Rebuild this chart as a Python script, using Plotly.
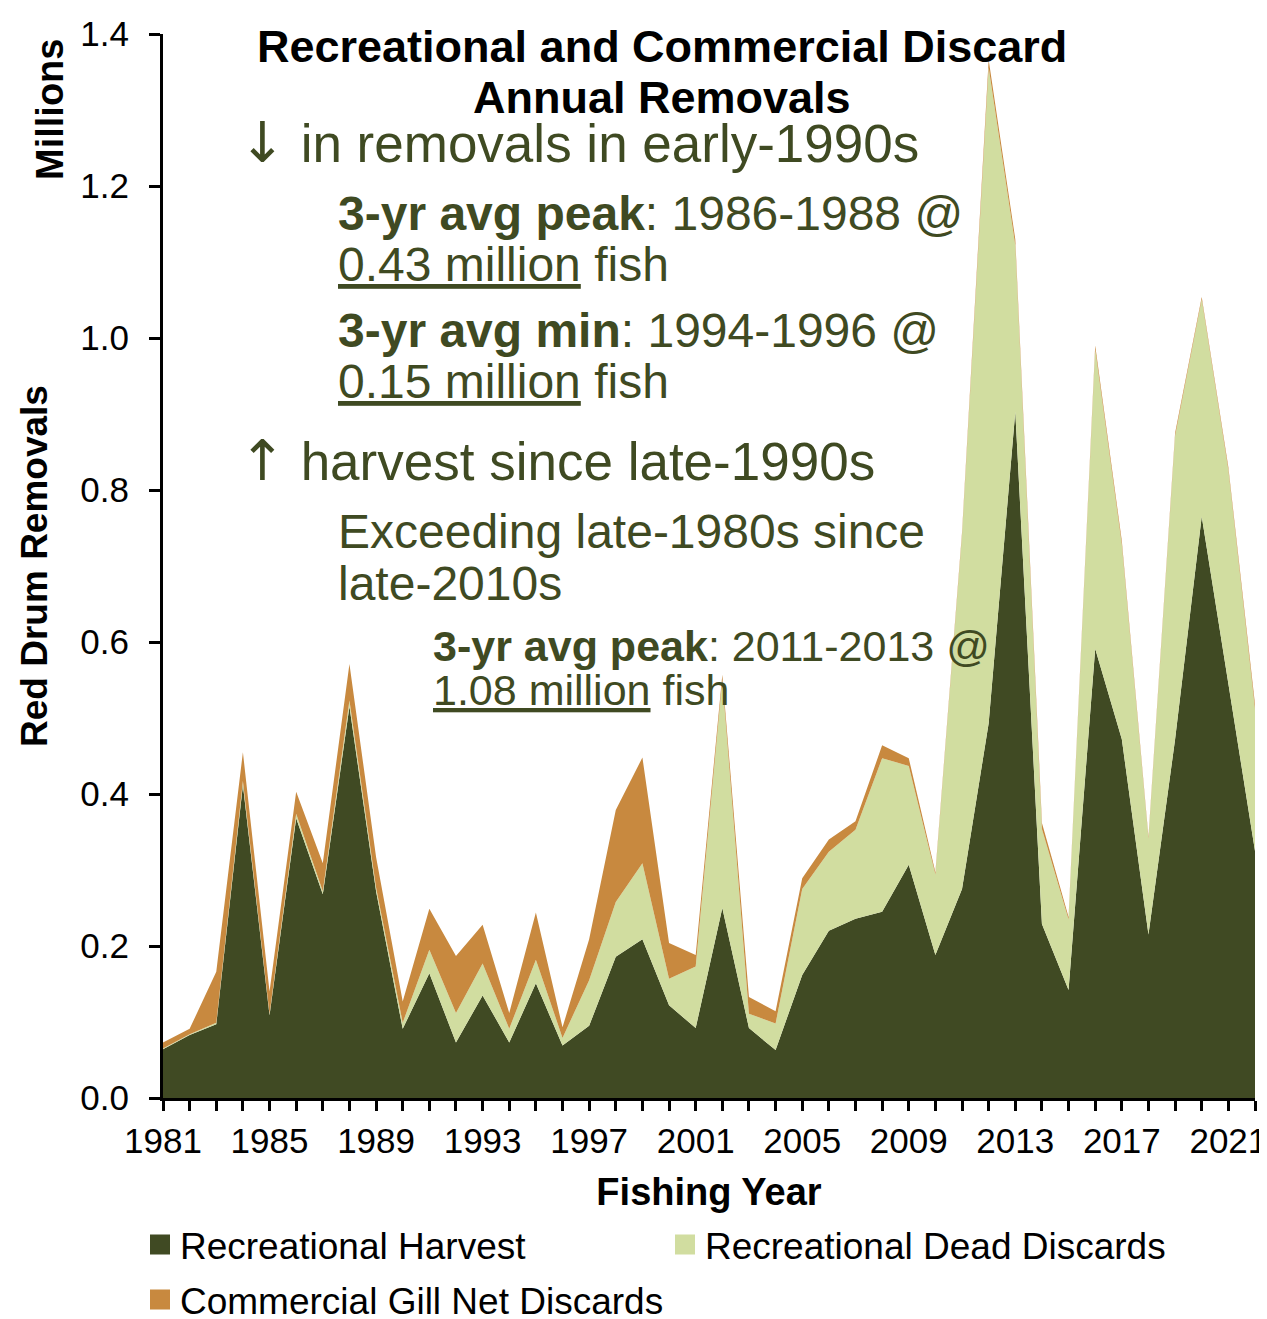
import plotly.graph_objects as go

years = list(range(1981, 2023))
rec_harvest = [0.064, 0.083, 0.097, 0.412, 0.109, 0.368, 0.268, 0.515, 0.272, 0.091,
               0.164, 0.073, 0.135, 0.073, 0.151, 0.069, 0.095, 0.186, 0.209, 0.122,
               0.092, 0.250, 0.092, 0.063, 0.162, 0.220, 0.236, 0.245, 0.307, 0.188,
               0.275, 0.493, 0.903, 0.229, 0.142, 0.591, 0.472, 0.215, 0.472, 0.765,
               0.545, 0.325]
rec_dead_discards = [0.001, 0.001, 0.002, 0.005, 0.002, 0.006, 0.004, 0.008, 0.005, 0.008,
                     0.031, 0.039, 0.042, 0.018, 0.031, 0.010, 0.060, 0.072, 0.100, 0.035,
                     0.081, 0.300, 0.019, 0.035, 0.113, 0.104, 0.117, 0.202, 0.130, 0.106,
                     0.465, 0.863, 0.219, 0.125, 0.093, 0.394, 0.256, 0.126, 0.399, 0.286,
                     0.281, 0.187]
gill_net_discards = [0.008, 0.007, 0.067, 0.038, 0.029, 0.029, 0.037, 0.048, 0.040, 0.028,
                     0.054, 0.075, 0.051, 0.021, 0.062, 0.014, 0.054, 0.121, 0.139, 0.047,
                     0.015, 0.007, 0.022, 0.016, 0.014, 0.016, 0.011, 0.017, 0.010, 0.003,
                     0.004, 0.010, 0.008, 0.008, 0.003, 0.005, 0.005, 0.003, 0.004, 0.003,
                     0.004, 0.006]

series_names = ["Recreational Harvest", "Recreational Dead Discards", "Commercial Gill Net Discards"]
colors = ["#404A23", "#D1DDA0", "#C8893F"]
text_color = "#3F4A22"
FONT = "Liberation Sans, Arial, sans-serif"
ARROW_FONT = "DejaVu Sans"

# page offset (default body margin of the html page)
OFF = 8
W, H = 1267 - OFF, 1319 - OFF
# plot area in screen pixels
SL, SR, ST, SB = 163, 1255, 34, 1098
L, R, T, B = SL - OFF, SR - OFF, ST - OFF, SB - OFF

def px_x(p):
    return (p - SL) / (SR - SL)

def px_y(p):
    return (SB - p) / (SB - ST)

fig = go.Figure()
for name, vals, col in zip(series_names, [rec_harvest, rec_dead_discards, gill_net_discards], colors):
    fig.add_trace(go.Scatter(
        x=years, y=vals, name=name, stackgroup="one", mode="lines",
        line=dict(width=0, color=col), fillcolor=col, showlegend=False,
        hovertemplate="%{x}: %{y:.3f}<extra>" + name + "</extra>"))

# legend entries (square swatches)
legend_ids = ["legend", "legend", "legend2"]
for name, col, lg in zip(series_names, colors, legend_ids):
    fig.add_trace(go.Scatter(
        x=[None], y=[None], name=name, mode="markers",
        marker=dict(symbol="square", size=16, color=col, line=dict(color=col, width=4)),
        legend=lg, showlegend=True))

ann = []
def add(text, x, y, size, color=text_color, xanchor="left", angle=0):
    ann.append(dict(text=text, x=px_x(x), y=px_y(y), xref="paper", yref="paper",
                    xanchor=xanchor, yanchor="middle", showarrow=False, textangle=angle,
                    font=dict(family=FONT, size=size, color=color)))

def arrow(ch):
    return '<span style="font-family:' + ARROW_FONT + ';font-size:56px">' + ch + '</span>'

add("<b>Recreational and Commercial Discard</b>", 662, 47, 45, "black", "center")
add("<b>Annual Removals</b>", 662, 97, 45, "black", "center")
add(arrow("↓") + " in removals in early-1990s", 237, 143, 53)
add("<b>3-yr avg peak</b>: 1986-1988 @", 336, 213, 48)
add("<u>0.43 million</u> fish", 336, 265, 48)
add("<b>3-yr avg min</b>: 1994-1996 @", 336, 330, 48)
add("<u>0.15 million</u> fish", 336, 382, 48)
add(arrow("↑") + " harvest since late-1990s", 237, 461, 53)
add("Exceeding late-1980s since", 336, 531, 48)
add("late-2010s", 336, 583, 48)
add("<b>3-yr avg peak</b>: 2011-2013 @", 431, 646, 43)
add("<u>1.08 million</u> fish", 431, 690, 43)
add("<b>Millions</b>", 50, 110, 38, "black", "center", -90)

fig.update_layout(
    width=W, height=H,
    margin=dict(l=L, r=W - R, t=T, b=H - B, pad=0, autoexpand=False),
    paper_bgcolor="white", plot_bgcolor="white",
    font=dict(family=FONT, size=35, color="black"),
    annotations=ann,
    legend=dict(orientation="h", x=px_x(140), y=px_y(1245), xanchor="left", yanchor="middle",
                entrywidth=480, entrywidthmode="pixels", traceorder="normal",
                font=dict(family=FONT, size=37, color="black"), bgcolor="rgba(0,0,0,0)"),
    legend2=dict(orientation="h", x=px_x(140), y=px_y(1300), xanchor="left", yanchor="middle",
                 traceorder="normal",
                 font=dict(family=FONT, size=37, color="black"), bgcolor="rgba(0,0,0,0)"),
    xaxis=dict(range=[1981, 2022], tick0=1981, dtick=4, ticks="outside", ticklen=10,
               tickwidth=3, tickcolor="black", showline=True, linewidth=3, linecolor="black",
               showgrid=False, zeroline=False, tickfont=dict(size=35), automargin=False,
               ticklabeloverflow="allow",
               minor=dict(dtick=1, tick0=1981, ticks="outside", ticklen=10, tickwidth=3,
                          tickcolor="black", showgrid=False),
               title=dict(text="<b>Fishing Year</b>", font=dict(size=38), standoff=20)),
    yaxis=dict(range=[0, 1.4], dtick=0.2, tick0=0, tickformat=".1f", ticks="outside",
               ticklen=11, tickwidth=3, tickcolor="black", showline=True, linewidth=3,
               linecolor="black", showgrid=False, zeroline=False, tickfont=dict(size=35),
               ticklabelstandoff=13, automargin=False,
               title=dict(text="<b>Red Drum Removals</b>", font=dict(size=37), standoff=22)),
)

fig.write_html("out.html")
